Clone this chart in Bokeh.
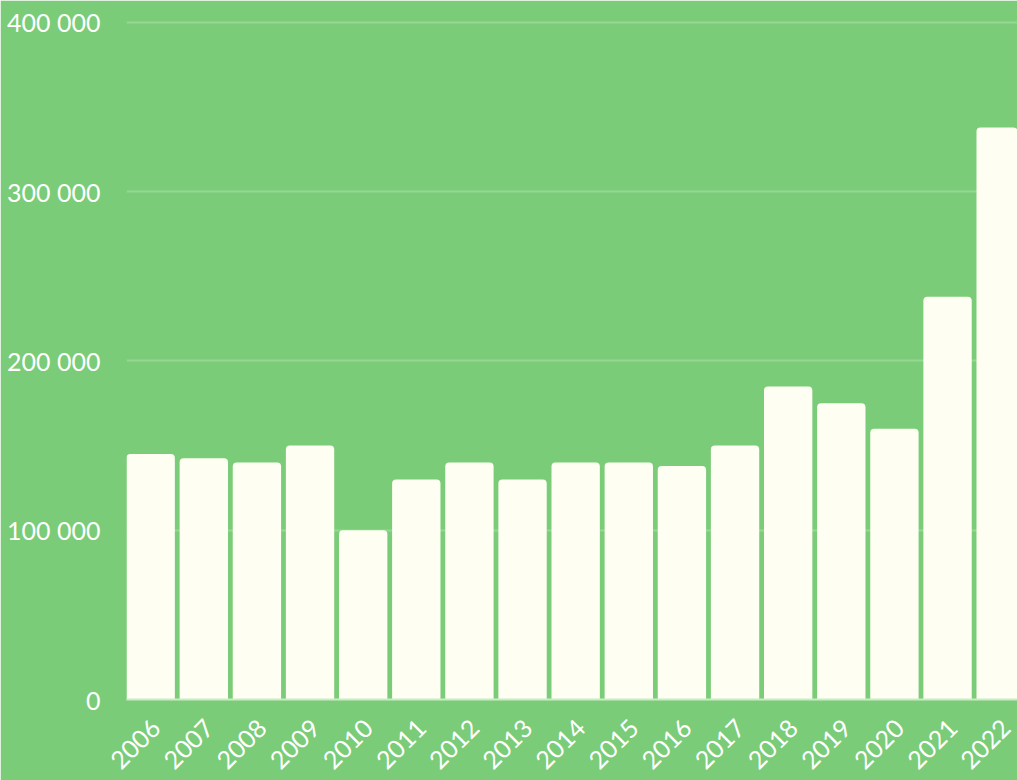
from bokeh.plotting import figure
from bokeh.models import Range1d, FixedTicker, ColumnDataSource, CustomJSTickFormatter
from bokeh.embed import file_html
from bokeh.resources import INLINE

years = ["2006", "2007", "2008", "2009", "2010", "2011", "2012", "2013", "2014",
         "2015", "2016", "2017", "2018", "2019", "2020", "2021", "2022"]
values = [145000, 142500, 140000, 150000, 100000, 130000, 140000, 130000, 140000,
          140000, 138000, 150000, 185000, 175000, 160000, 238000, 338000]
y_ticks = [0, 100000, 200000, 300000, 400000]
y_tick_labels = ["0", "100 000", "200 000", "300 000", "400 000"]

BG = "#7ACC78"
BAR = "#FEFFF2"
FONT = "Lato"

xs = list(range(len(years)))
src = ColumnDataSource(dict(x=xs, top=values, year=years))

W, H = 1017, 780
LEFT, TOP, BOTTOM = 126, 20, 80
px_per_unit = 53.125
bar_w = 0.91
x_start = -bar_w / 2
x_end = x_start + (W - LEFT) / px_per_unit
frame_h = H - TOP - BOTTOM
y_end = 400000 * frame_h / (frame_h - (22 - TOP))   # keep top gridline just inside the frame
label_shift = 0.1   # shift rotated labels slightly to the right, like the reference

p = figure(width=W, height=H, output_backend="svg", toolbar_location=None,
           x_range=Range1d(x_start, x_end), y_range=Range1d(0, y_end),
           min_border_left=LEFT, min_border_top=TOP, min_border_bottom=BOTTOM,
           min_border_right=0)
p.background_fill_color = BG
p.border_fill_color = BG
p.outline_line_color = BG
p.outline_line_width = 1

p.vbar(x="x", top="top", width=bar_w, source=src, fill_color=BAR, line_color=None,
       border_radius=(4, 4, 0, 0))

# y axis
p.yaxis.ticker = FixedTicker(ticks=y_ticks)
p.yaxis.major_label_overrides = {t: l for t, l in zip(y_ticks, y_tick_labels)}
p.yaxis.axis_line_color = None
p.yaxis.major_tick_line_color = None
p.yaxis.minor_tick_line_color = None
p.yaxis.major_label_text_color = "white"
p.yaxis.major_label_text_font = FONT
p.yaxis.major_label_text_font_size = "25px"
p.yaxis.major_label_standoff = 20

# x axis
p.xaxis.ticker = FixedTicker(ticks=[i + label_shift for i in xs])
p.xaxis.formatter = CustomJSTickFormatter(args=dict(labels=years),
                                          code="return labels[Math.round(tick - %s)]" % label_shift)
p.xaxis.axis_line_color = "#C9ECC6"
p.xaxis.axis_line_width = 2
p.xaxis.major_tick_line_color = None
p.xaxis.minor_tick_line_color = None
p.xaxis.major_label_orientation = 0.785
p.xaxis.major_label_text_color = "white"
p.xaxis.major_label_text_font = FONT
p.xaxis.major_label_text_font_size = "25px"
p.xaxis.major_label_standoff = 18

p.xgrid.grid_line_color = None
p.ygrid.grid_line_color = "white"
p.ygrid.grid_line_alpha = 0.22
p.ygrid.grid_line_width = 2

open("out.html", "w").write(file_html(p, INLINE))
